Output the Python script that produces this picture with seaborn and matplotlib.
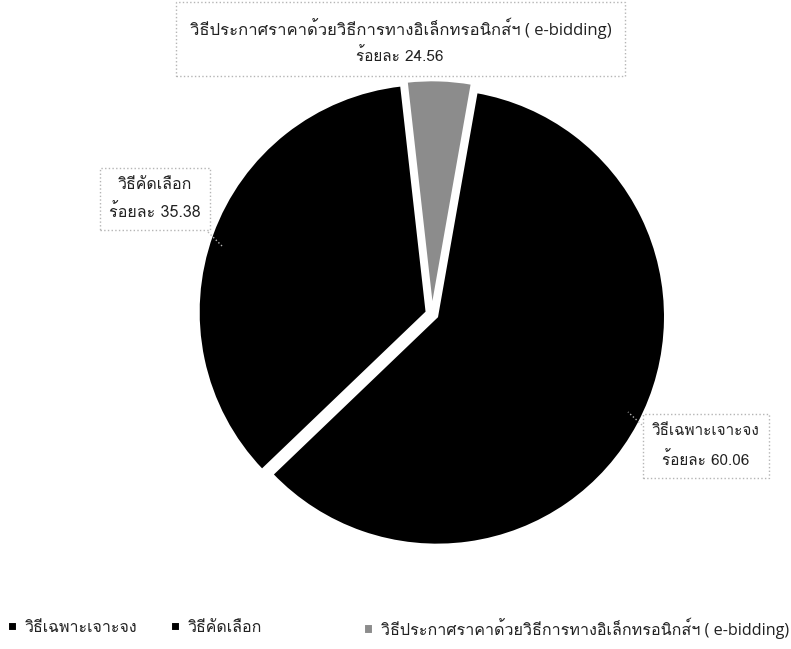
import matplotlib
matplotlib.use("Agg")
import matplotlib.pyplot as plt
import seaborn as sns

# data
categories = ["วิธีเฉพาะเจาะจง", "วิธีคัดเลือก",
              "วิธีประกาศราคาด้วยวิธีการทางอิเล็กทรอนิกส์ฯ ( e-bidding)"]
shares = [60.06, 35.38, 4.56]
label_pct = ["60.06", "35.38", "24.56"]   # as printed on the chart
slice_colors = ["#000000", "#000000", "#8c8c8c"]

sns.set_theme(style="white")
plt.rcParams["font.family"] = ["Loma", "DejaVu Sans"]
mixed = ["Open Sans", "Loma"]   # latin in Open Sans, thai falls back to Loma

W, H = 791, 649
fig = plt.figure(figsize=(W / 100, H / 100), dpi=100)

def fx(px):
    return px / W

def fy(py):
    return 1 - py / H

# pie centre / radius in pixels
cx, cy, r, half = 432, 314, 228, 240
ax = fig.add_axes([fx(cx - half), fy(cy + half), 2 * half / W, 2 * half / H])

wedges, _ = ax.pie(shares, colors=slice_colors, startangle=80, counterclock=False,
                   explode=[0.025, 0.025, 0.025], radius=1,
                   wedgeprops=dict(edgecolor="white", linewidth=1.5))
lim = half / r
ax.set_xlim(-lim, lim)
ax.set_ylim(-lim, lim)
ax.set_aspect("equal")
ax.axis("off")

box = dict(boxstyle="square,pad=0.6", facecolor="white", edgecolor="#b5b5b5",
           linestyle=":", linewidth=1)
txt = "#222222"

# data labels
fig.text(fx(706), fy(446), categories[0] + "\n" + "ร้อยละ " + label_pct[0],
         ha="center", va="center", fontsize=11, linespacing=2.0, bbox=box, color=txt)
fig.text(fx(155), fy(199), categories[1] + "\n" + "ร้อยละ " + label_pct[1],
         ha="center", va="center", fontsize=11.5, linespacing=1.8, bbox=box, color=txt)
fig.text(fx(401), fy(28), categories[2], ha="center", va="center",
         fontsize=12, family=mixed, color=txt)
fig.text(fx(400), fy(56), "ร้อยละ " + label_pct[2], ha="center", va="center",
         fontsize=11, color=txt)
fig.patches.append(plt.Rectangle((fx(176), fy(76)), fx(625 - 176), 74 / H,
                                 transform=fig.transFigure, fill=False,
                                 edgecolor="#b5b5b5", linestyle=":", linewidth=1))

# faint leader lines
fig.add_artist(plt.Line2D([fx(208), fx(222)], [fy(232), fy(246)], color="#b5b5b5",
                          linestyle=":", linewidth=1))
fig.add_artist(plt.Line2D([fx(642), fx(628)], [fy(425), fy(412)], color="#b5b5b5",
                          linestyle=":", linewidth=1))

# legend, three entries spaced like the original
legend_x = [8, 171, 364]
legend_size = [11.5, 11.5, 11.6]
for i, x in enumerate(legend_x):
    lg = fig.legend([wedges[i]], [categories[i]], loc="center left",
                    bbox_to_anchor=(fx(x), fy(628)), frameon=False,
                    handlelength=0.55, handleheight=0.55, handletextpad=0.5,
                    borderpad=0, borderaxespad=0,
                    prop=dict(family=mixed if i == 2 else ["Loma"], size=legend_size[i]))
    for t in lg.get_texts():
        t.set_color(txt)

fig.savefig("out.png", dpi=100)
